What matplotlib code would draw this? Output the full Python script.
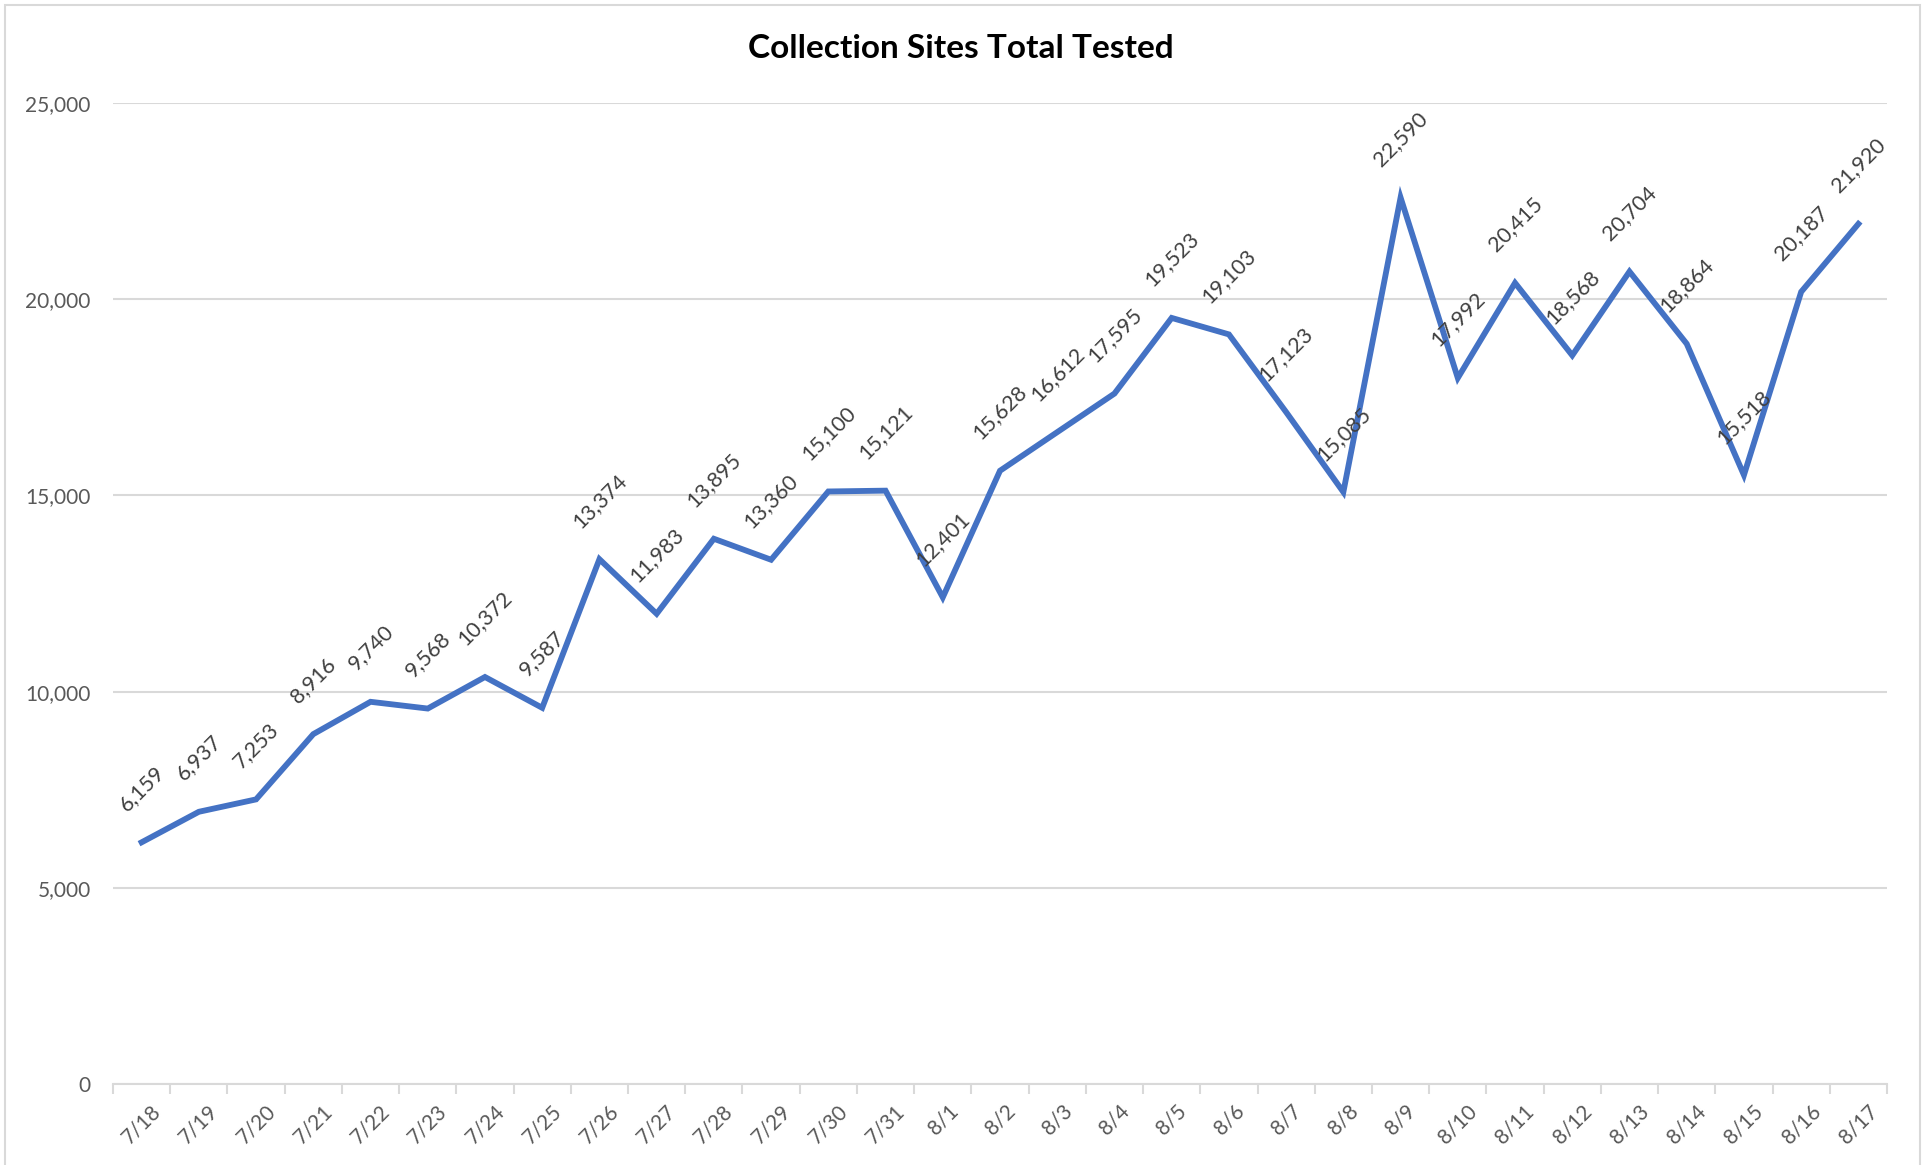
import matplotlib
matplotlib.use("Agg")
import matplotlib.pyplot as plt
from matplotlib.patches import Rectangle
from matplotlib.ticker import FuncFormatter, FixedLocator, MultipleLocator

# data
dates = ["7/18", "7/19", "7/20", "7/21", "7/22", "7/23", "7/24", "7/25", "7/26", "7/27",
         "7/28", "7/29", "7/30", "7/31", "8/1", "8/2", "8/3", "8/4", "8/5", "8/6",
         "8/7", "8/8", "8/9", "8/10", "8/11", "8/12", "8/13", "8/14", "8/15", "8/16", "8/17"]
tested = [6159, 6937, 7253, 8916, 9740, 9568, 10372, 9587, 13374, 11983,
          13895, 13360, 15100, 15121, 12401, 15628, 16612, 17595, 19523, 19103,
          17123, 15085, 22590, 17992, 20415, 18568, 20704, 18864, 15518, 20187, 21920]

plt.rcParams['font.family'] = ['Lato', 'DejaVu Sans']

W, H = 1927, 1165
fig = plt.figure(figsize=(W / 100, H / 100), dpi=100)
ax = fig.add_axes([113 / W, 1 - 1084 / H, (1887 - 113) / W, (1084 - 103) / H])

x = list(range(len(dates)))
ax.plot(x, tested, color='#4472C4', lw=4.2, solid_joinstyle='miter', zorder=3)

# data labels, rotated like excel does
for xi, v in zip(x, tested):
    ax.annotate(f"{v:,}", (xi, v), xytext=(0, 20), textcoords='offset points',
                rotation=45, ha='center', va='bottom', fontsize=15.5, color='#404040',
                zorder=4)

ax.set_xlim(-0.5, len(dates) - 0.5)
ax.set_ylim(0, 25000)
ax.yaxis.set_major_locator(MultipleLocator(5000))
ax.yaxis.set_major_formatter(FuncFormatter(lambda v, p: f"{int(v):,}"))
ax.grid(axis='y', color='#d9d9d9', lw=1.5, zorder=0)
ax.tick_params(axis='y', length=0, pad=16, labelsize=15, labelcolor='#595959')

ax.set_xticks(x)
ax.set_xticklabels(dates, rotation=45, ha='center', va='top', fontsize=15, color='#595959')
ax.tick_params(axis='x', which='major', length=0, pad=12)
ax.xaxis.set_minor_locator(FixedLocator([i - 0.5 for i in range(len(dates) + 1)]))
ax.tick_params(axis='x', which='minor', length=7, width=1.5, color='#d9d9d9')

for s in ['top', 'right', 'left']:
    ax.spines[s].set_visible(False)
ax.spines['bottom'].set_color('#d9d9d9')
ax.spines['bottom'].set_linewidth(1.5)

fig.text(0.4985, 1 - 49 / H, "Collection Sites Total Tested", ha='center', va='center',
         fontsize=24, fontweight='bold', color='black')

# chart border
fig.patches.append(Rectangle((5 / W, -0.01), (1920 - 5) / W, 1.01 - 5 / H, transform=fig.transFigure,
                             fill=False, edgecolor='#d9d9d9', lw=1.5))

fig.savefig("out.png", dpi=100)
